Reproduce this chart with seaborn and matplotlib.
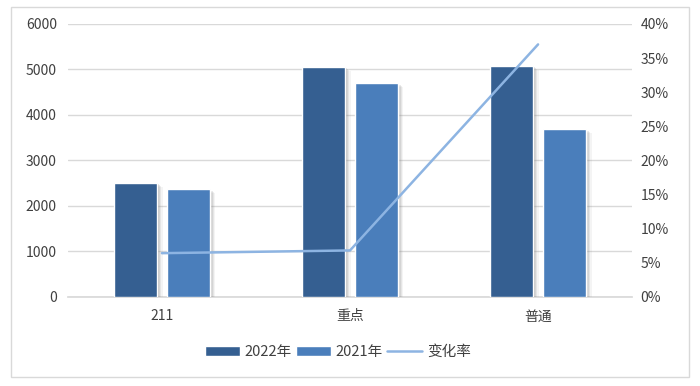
import matplotlib
matplotlib.use("Agg")
import matplotlib.pyplot as plt
import matplotlib.patheffects as pe
from matplotlib.patches import Patch, Rectangle
from matplotlib.lines import Line2D
import seaborn as sns
import pandas as pd

categories = ["211", "重点", "普通"]
series_names = ["2022年", "2021年"]
values_2022 = [2510, 5045, 5065]
values_2021 = [2365, 4700, 3695]
rate_name = "变化率"
rate_values = [0.064, 0.068, 0.370]
left_ticks = [0, 1000, 2000, 3000, 4000, 5000, 6000]
right_ticks = [0, 0.05, 0.10, 0.15, 0.20, 0.25, 0.30, 0.35, 0.40]

colors = ["#355F91", "#4A7EBB"]
line_color = "#8DB4E2"
grid_color = "#D9D9D9"
text_color = "#404040"

sns.set_theme(style="white")
plt.rcParams["font.family"] = ["Noto Sans CJK SC", "DejaVu Sans"]

df = pd.DataFrame({
    "cat": categories * 2,
    "series": [series_names[0]] * 3 + [series_names[1]] * 3,
    "value": values_2022 + values_2021,
})

fig = plt.figure(figsize=(7.0, 3.86), dpi=100)
ax = fig.add_axes([0.097, 0.231, 0.806, 0.707])

sns.barplot(data=df, x="cat", y="value", hue="series", palette=colors,
            width=0.56, gap=0.18, ax=ax, legend=False, zorder=3,
            saturation=1)

shadow = [pe.SimplePatchShadow(offset=(o, -o * 0.7), shadow_rgbFace="#7f7f7f", alpha=a)
          for o, a in [(4, 0.08), (3, 0.12), (2, 0.16), (1, 0.2)]]
for p in ax.patches:
    p.set_path_effects(shadow + [pe.Normal()])

ax.set_ylim(0, 6000)
ax.set_yticks(left_ticks)
ax.set_yticklabels([str(v) for v in left_ticks])
ax.set_xlim(-0.5, 2.5)
ax.set_xlabel("")
ax.set_ylabel("")
ax.grid(axis="y", color=grid_color, linewidth=1, zorder=0)
ax.set_axisbelow(True)
for s in ["top", "right", "left"]:
    ax.spines[s].set_visible(False)
ax.spines["bottom"].set_color(grid_color)
ax.tick_params(axis="both", length=0, labelsize=10, colors=text_color)
ax.tick_params(axis="x", pad=9)
ax.tick_params(axis="y", pad=8)

ax2 = ax.twinx()
sns.lineplot(x=list(range(len(categories))), y=rate_values, ax=ax2,
             color=line_color, linewidth=1.8, zorder=5)
ax2.set_ylim(0, 0.40)
ax2.set_yticks(right_ticks)
ax2.set_yticklabels([f"{int(round(v*100))}%" for v in right_ticks])
for s in ["top", "right", "left", "bottom"]:
    ax2.spines[s].set_visible(False)
ax2.tick_params(axis="y", length=0, labelsize=10, colors=text_color, pad=6)
ax2.set_ylabel("")

handles = [Patch(facecolor=colors[0], label=series_names[0]),
           Patch(facecolor=colors[1], label=series_names[1]),
           Line2D([0], [0], color=line_color, linewidth=1.8, label=rate_name)]
fig.legend(handles=handles, loc="center", bbox_to_anchor=(0.483, 0.088), ncol=3,
           frameon=False, fontsize=10.5, handlelength=2.4, handleheight=0.6,
           handletextpad=0.3, columnspacing=0.3, labelcolor=text_color)

fig.patches.append(Rectangle((11/700, 1-377/386), 678/700, 370/386, transform=fig.transFigure,
                             fill=False, edgecolor="#D9D9D9", linewidth=1))

fig.savefig("out.png", dpi=100)
